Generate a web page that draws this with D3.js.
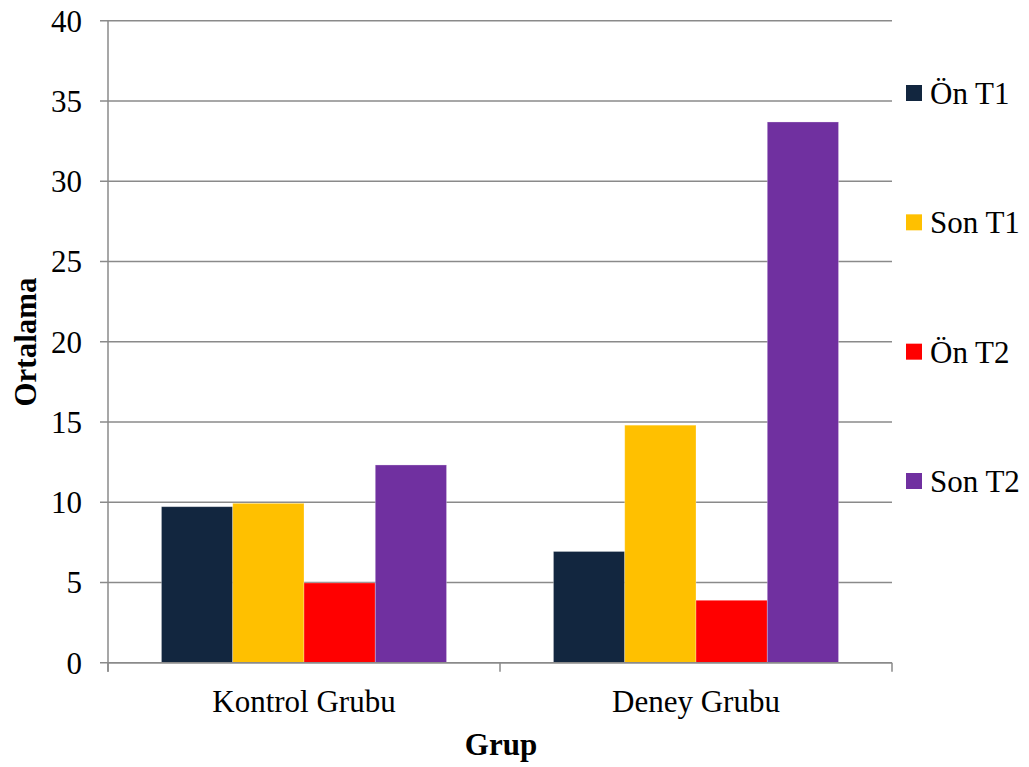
<!DOCTYPE html>
<html>
<head>
<meta charset="utf-8">
<script src="https://cdn.jsdelivr.net/npm/d3@7"></script>
<style>
  html, body { margin: 0; padding: 0; background: #fff; }
  svg { display: block; }
</style>
</head>
<body>
<svg id="chart" width="1029" height="767"></svg>
<script>
// Group means per test
const categories = ["Kontrol Grubu", "Deney Grubu"];
const seriesNames = ["Ön T1", "Son T1", "Ön T2", "Son T2"];
const seriesColors = ["#12263F", "#FFC000", "#FF0000", "#7030A0"];
const onT1 = [9.72, 6.93];
const sonT1 = [9.93, 14.80];
const onT2 = [4.97, 3.89];
const sonT2 = [12.32, 33.69];
const yTicks = [0, 5, 10, 15, 20, 25, 30, 35, 40];
const yTitle = "Ortalama";
const xTitle = "Grup";

const values = [onT1, sonT1, onT2, sonT2];
const rows = categories.map((c, i) => ({
  category: c,
  bars: seriesNames.map((s, j) => ({ series: s, value: values[j][i], color: seriesColors[j] }))
}));

const fontFamily = "'Liberation Serif', 'Times New Roman', Times, 'DejaVu Serif', serif";

const svg = d3.select("#chart")
  .attr("font-family", fontFamily);
const plotLeft = 108, plotRight = 892, plotTop = 20.7, plotBottom = 662.7;

const x = d3.scaleBand().domain(categories).range([plotLeft, plotRight]).padding(0);
const xInner = d3.scaleBand().domain(seriesNames).range([0, x.bandwidth()])
  .paddingInner(0).paddingOuter(0.75);
const y = d3.scaleLinear().domain([0, 40]).range([plotBottom, plotTop]);

const gridColor = "#8a8a8a";

// horizontal gridlines
svg.append("g")
  .selectAll("line")
  .data(yTicks)
  .join("line")
  .attr("x1", plotLeft - 8)
  .attr("x2", plotRight)
  .attr("y1", d => y(d))
  .attr("y2", d => y(d))
  .attr("stroke", gridColor)
  .attr("stroke-width", 1.5);

// y tick labels
svg.append("g")
  .selectAll("text")
  .data(yTicks)
  .join("text")
  .attr("x", 82)
  .attr("y", d => y(d))
  .attr("dy", "0.35em")
  .attr("text-anchor", "end")
  .attr("font-family", fontFamily)
  .attr("font-size", 31)
  .text(d => d);

// bars
const groups = svg.append("g")
  .selectAll("g")
  .data(rows)
  .join("g")
  .attr("transform", d => `translate(${x(d.category)},0)`);

groups.selectAll("rect")
  .data(d => d.bars)
  .join("rect")
  .attr("x", d => xInner(d.series))
  .attr("width", xInner.bandwidth())
  .attr("y", d => y(d.value))
  .attr("height", d => y(0) - y(d.value))
  .attr("fill", d => d.color)
  .attr("stroke", "rgba(255,255,255,0.35)")
  .attr("stroke-width", 0.8);

// y axis line
svg.append("line")
  .attr("x1", plotLeft).attr("x2", plotLeft)
  .attr("y1", plotTop).attr("y2", plotBottom + 9)
  .attr("stroke", gridColor).attr("stroke-width", 1.5);

// x axis line and category separators
svg.append("line")
  .attr("x1", plotLeft).attr("x2", plotRight)
  .attr("y1", plotBottom).attr("y2", plotBottom)
  .attr("stroke", gridColor).attr("stroke-width", 1.5);

const xTickPos = categories.map(c => x(c)).concat([x(categories[categories.length - 1]) + x.bandwidth()]);
svg.append("g")
  .selectAll("line")
  .data(xTickPos)
  .join("line")
  .attr("x1", d => d).attr("x2", d => d)
  .attr("y1", plotBottom).attr("y2", plotBottom + 9)
  .attr("stroke", gridColor).attr("stroke-width", 1.5);

// category labels
svg.append("g")
  .selectAll("text")
  .data(categories)
  .join("text")
  .attr("x", d => x(d) + x.bandwidth() / 2)
  .attr("y", 712)
  .attr("text-anchor", "middle")
  .attr("font-family", fontFamily)
  .attr("font-size", 31)
  .text(d => d);

// axis titles
svg.append("text")
  .attr("x", 501)
  .attr("y", 755)
  .attr("text-anchor", "middle")
  .attr("font-family", fontFamily)
  .attr("font-size", 31)
  .attr("font-weight", "bold")
  .text(xTitle);

svg.append("text")
  .attr("transform", "translate(36,342) rotate(-90)")
  .attr("text-anchor", "middle")
  .attr("font-family", fontFamily)
  .attr("font-size", 31)
  .attr("font-weight", "bold")
  .text(yTitle);

// legend
const legendY = d3.scalePoint().domain(seriesNames).range([93, 481]);
const legend = svg.append("g")
  .selectAll("g")
  .data(seriesNames)
  .join("g")
  .attr("transform", d => `translate(906,${legendY(d)})`);

legend.append("rect")
  .attr("x", 0).attr("y", -8)
  .attr("width", 16).attr("height", 16)
  .attr("fill", (d, i) => seriesColors[i]);

legend.append("text")
  .attr("x", 24)
  .attr("y", 0)
  .attr("dy", "0.35em")
  .attr("font-family", fontFamily)
  .attr("font-size", 31)
  .text(d => d);
</script>
</body>
</html>
